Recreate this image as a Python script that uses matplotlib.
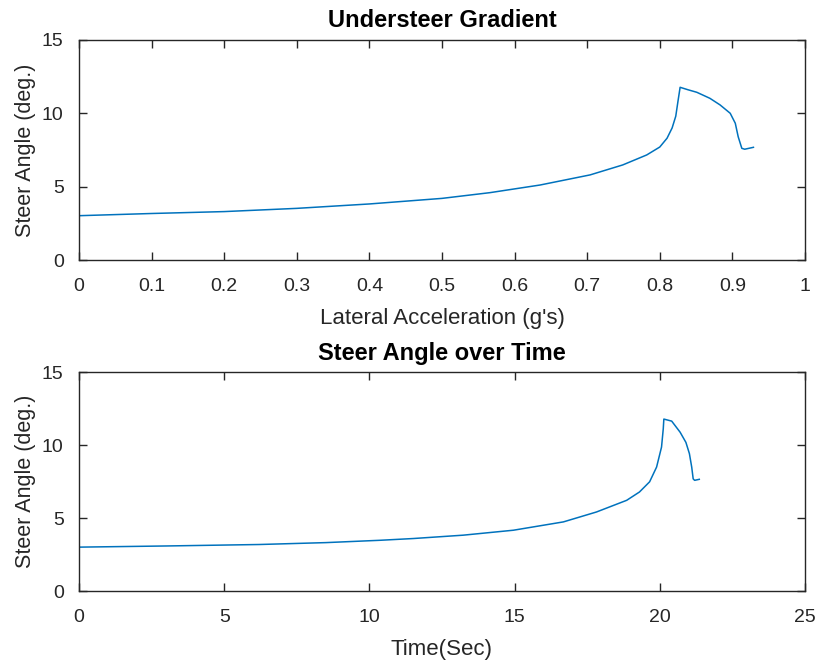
import numpy as np
import matplotlib
matplotlib.use("Agg")
import matplotlib.pyplot as plt

# Steer angle vs lateral acceleration
lat_acc = [0.0, 0.1, 0.2, 0.3, 0.4, 0.5, 0.566, 0.635, 0.704, 0.749, 0.782, 0.800,
           0.810, 0.817, 0.822, 0.825, 0.828, 0.839, 0.851, 0.869, 0.883, 0.897, 0.904,
           0.908, 0.913, 0.917, 0.929]
steer_ug = [3.02, 3.17, 3.3, 3.52, 3.82, 4.2, 4.59, 5.11, 5.8, 6.48, 7.16, 7.7,
            8.3, 9.0, 9.8, 10.8, 11.77, 11.6, 11.43, 11.02, 10.57, 10.0, 9.32,
            8.4, 7.61, 7.55, 7.68]

# Steer angle vs time
time_s = [0.0, 3.0, 6.2, 8.5, 10.37, 11.51, 13.23, 14.96, 16.68, 17.82, 18.86, 19.3,
          19.65, 19.89, 20.06, 20.12, 20.14, 20.41, 20.7, 20.9, 21.02, 21.1, 21.15,
          21.2, 21.36]
steer_t = [3.02, 3.1, 3.2, 3.33, 3.49, 3.61, 3.84, 4.18, 4.75, 5.43, 6.23, 6.8,
           7.5, 8.51, 9.88, 11.14, 11.8, 11.66, 10.9, 10.2, 9.43, 8.5, 7.7,
           7.6, 7.67]

plt.rcParams.update({
    'font.family': 'Liberation Sans',
    'axes.edgecolor': '#262626',
    'xtick.color': '#262626',
    'ytick.color': '#262626',
    'axes.linewidth': 1.0,
})

line_color = '#0072BD'
text_color = '#262626'
fig = plt.figure(figsize=(8.16, 6.65), dpi=100)

ax1 = fig.add_axes([0.0968, 0.609, 0.8897, 0.331])
ax2 = fig.add_axes([0.0968, 0.111, 0.8897, 0.329])


def style(ax):
    ax.tick_params(direction='in', top=True, right=True, length=6, width=1,
                   labelsize=14)
    ax.tick_params(axis='x', pad=13)
    ax.tick_params(axis='y', pad=11)


ax1.plot(lat_acc, steer_ug, color=line_color, linewidth=1.1)
ax1.set_xlim(0, 1)
ax1.set_ylim(0, 15)
ax1.set_xticks(np.arange(0, 1.01, 0.1))
ax1.set_xticklabels(['0', '0.1', '0.2', '0.3', '0.4', '0.5', '0.6', '0.7', '0.8', '0.9', '1'])
ax1.set_yticks([0, 5, 10, 15])
ax1.set_title("Understeer Gradient", fontsize=17, fontweight='bold', pad=9)
ax1.set_xlabel("Lateral Acceleration (g's)", fontsize=16, labelpad=9, color=text_color)
ax1.set_ylabel("Steer Angle (deg.)", fontsize=15.5, labelpad=4, color=text_color)
style(ax1)

ax2.plot(time_s, steer_t, color=line_color, linewidth=1.1)
ax2.set_xlim(0, 25)
ax2.set_ylim(0, 15)
ax2.set_xticks([0, 5, 10, 15, 20, 25])
ax2.set_yticks([0, 5, 10, 15])
ax2.set_title("Steer Angle over Time", fontsize=17, fontweight='bold', pad=9)
ax2.set_xlabel("Time(Sec)", fontsize=16, labelpad=9, color=text_color)
ax2.set_ylabel("Steer Angle (deg.)", fontsize=15.5, labelpad=4, color=text_color)
style(ax2)

fig.savefig("out.png", dpi=100)
